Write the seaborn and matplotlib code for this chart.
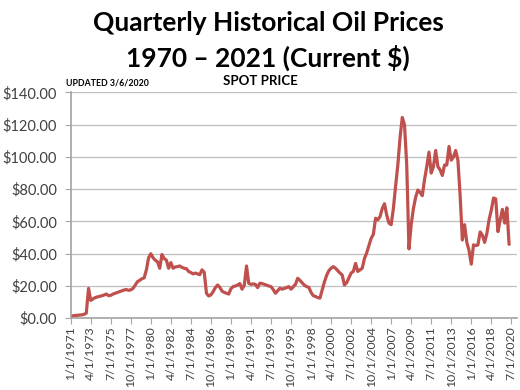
import matplotlib
matplotlib.use("Agg")
import matplotlib.pyplot as plt
import seaborn as sns
import pandas as pd
import numpy as np

# Quarterly spot prices, starting 1/1/1971 (one value per quarter)
prices = [
    1.3, 1.5, 1.7, 1.8,        # 1971
    2.0, 2.1, 2.4, 3.2,        # 1972
    18.5, 11.0, 12.0, 12.8,    # 1973
    13.2, 13.6, 13.9, 14.4,    # 1974
    15.0, 14.0, 14.2, 15.0,    # 1975
    15.5, 16.0, 16.5, 17.0,    # 1976
    17.5, 17.8, 17.3, 17.6,    # 1977
    18.5, 20.6, 22.7, 23.5,    # 1978
    24.5, 25.0, 30.0, 37.5,    # 1979
    40.0, 37.5, 36.0, 35.0,    # 1980
    31.0, 39.5, 37.0, 36.0,    # 1981
    31.0, 34.5, 31.0, 31.8,    # 1982
    32.0, 32.4, 31.5, 31.0,    # 1983
    30.7, 29.0, 28.3, 27.5,    # 1984
    28.0, 27.5, 27.0, 30.0,    # 1985
    28.5, 15.5, 13.8, 14.5,    # 1986
    16.5, 19.0, 20.6, 19.2,    # 1987
    16.8, 16.0, 15.5, 15.0,    # 1988
    18.3, 19.6, 20.0, 20.6,    # 1989
    21.5, 18.0, 20.5, 32.4,    # 1990
    21.7, 21.0, 21.3, 21.0,    # 1991
    19.0, 21.7, 21.5, 21.0,    # 1992
    20.5, 20.0, 19.6, 17.8,    # 1993
    15.5, 17.0, 18.6, 18.0,    # 1994
    18.5, 19.0, 19.6, 18.0,    # 1995
    19.5, 21.0, 24.8, 23.5,    # 1996
    22.0, 20.5, 19.6, 19.2,    # 1997
    16.0, 14.0, 13.5, 12.8,    # 1998
    12.5, 17.5, 22.5, 26.5,    # 1999
    29.5, 31.0, 32.0, 31.0,    # 2000
    29.5, 28.0, 26.8, 20.6,    # 2001
    22.0, 25.0, 28.0, 29.0,    # 2002
    34.0, 29.0, 30.0, 31.0,    # 2003
    37.0, 40.5, 45.0, 49.5,    # 2004
    52.0, 62.0, 61.0, 63.0,    # 2005
    68.0, 71.0, 64.0, 59.0,    # 2006
    58.0, 68.0, 82.0, 95.0,    # 2007
    112.0, 124.5, 120.0, 95.0, # 2008
    43.0, 58.0, 68.0, 75.0,    # 2009
    79.5, 78.0, 76.0, 86.0,    # 2010
    94.0, 103.0, 90.0, 94.0,   # 2011
    104.0, 94.0, 92.0, 88.5,   # 2012
    95.0, 95.0, 106.5, 98.0,   # 2013
    100.0, 104.0, 98.0, 76.0,  # 2014
    48.5, 58.0, 47.0, 42.0,    # 2015
    33.5, 45.5, 45.0, 45.5,    # 2016
    53.5, 51.5, 47.0, 52.5,    # 2017
    61.0, 67.0, 74.5, 74.0,    # 2018
    53.7, 61.0, 67.5, 59.0,    # 2019
    68.5, 45.8,                # 2020
]

tick_labels = ["1/1/1971", "4/1/1973", "7/1/1975", "10/1/1977", "1/1/1980",
               "4/1/1982", "7/1/1984", "10/1/1986", "1/1/1989", "4/1/1991",
               "7/1/1993", "10/1/1995", "1/1/1998", "4/1/2000", "7/1/2002",
               "10/1/2004", "1/1/2007", "4/1/2009", "7/1/2011", "10/1/2013",
               "1/1/2016", "4/1/2018", "7/1/2020"]
y_ticks = [0, 20, 40, 60, 80, 100, 120, 140]

title_line1 = "Quarterly Historical Oil Prices"
title_line2 = "1970 \u2013 2021 (Current $)"
subtitle = "SPOT PRICE"
note = "UPDATED 3/6/2020"

sns.set_theme(style="white")
plt.rcParams["font.family"] = ["Lato", "DejaVu Sans"]

df = pd.DataFrame({"q": np.arange(len(prices)), "price": prices})

fig = plt.figure(figsize=(5.2, 3.9), dpi=100)
ax = fig.add_axes([0.136, 0.184, 0.858, 0.579])

sns.lineplot(data=df, x="q", y="price", ax=ax, color="#C0504D", linewidth=2.3)

ax.set_xlim(0, 200.5)
ax.set_ylim(0, 140)
ax.set_yticks(y_ticks)
ax.set_yticklabels([f"${v:.2f}" for v in y_ticks], fontsize=10.5, color="#404040")
ax.set_xticks(np.arange(0, 9 * len(tick_labels), 9))
ax.set_xticklabels(tick_labels, rotation=90, fontsize=8.8, color="#404040")
ax.set_xlabel("")
ax.set_ylabel("")
ax.yaxis.grid(True, color="#BFBFBF", linewidth=0.9)
ax.xaxis.grid(False)
for s in ["top", "right"]:
    ax.spines[s].set_visible(False)
ax.spines["left"].set_color("#A6A6A6")
ax.spines["bottom"].set_color("#A6A6A6")
ax.tick_params(axis="y", which="major", direction="out", length=4,
               width=0.8, color="#A6A6A6", pad=6, left=True)
ax.tick_params(axis="x", which="major", direction="out", length=4,
               width=0.8, color="#A6A6A6", pad=2, bottom=True)

fig.text(0.516, 1 - 31 / 390, title_line1, ha="center", va="baseline",
         fontsize=19, fontweight="bold", color="black")
fig.text(0.516, 1 - 67 / 390, title_line2, ha="center", va="baseline",
         fontsize=19, fontweight="bold", color="black")
fig.text(0.50, 0.792, subtitle, ha="center", va="center", fontsize=9.5,
         fontweight="bold", color="black")
fig.text(0.127, 0.787, note, ha="left", va="center", fontsize=6.3,
         fontweight="bold", color="black")

fig.savefig("out.png", dpi=100)
